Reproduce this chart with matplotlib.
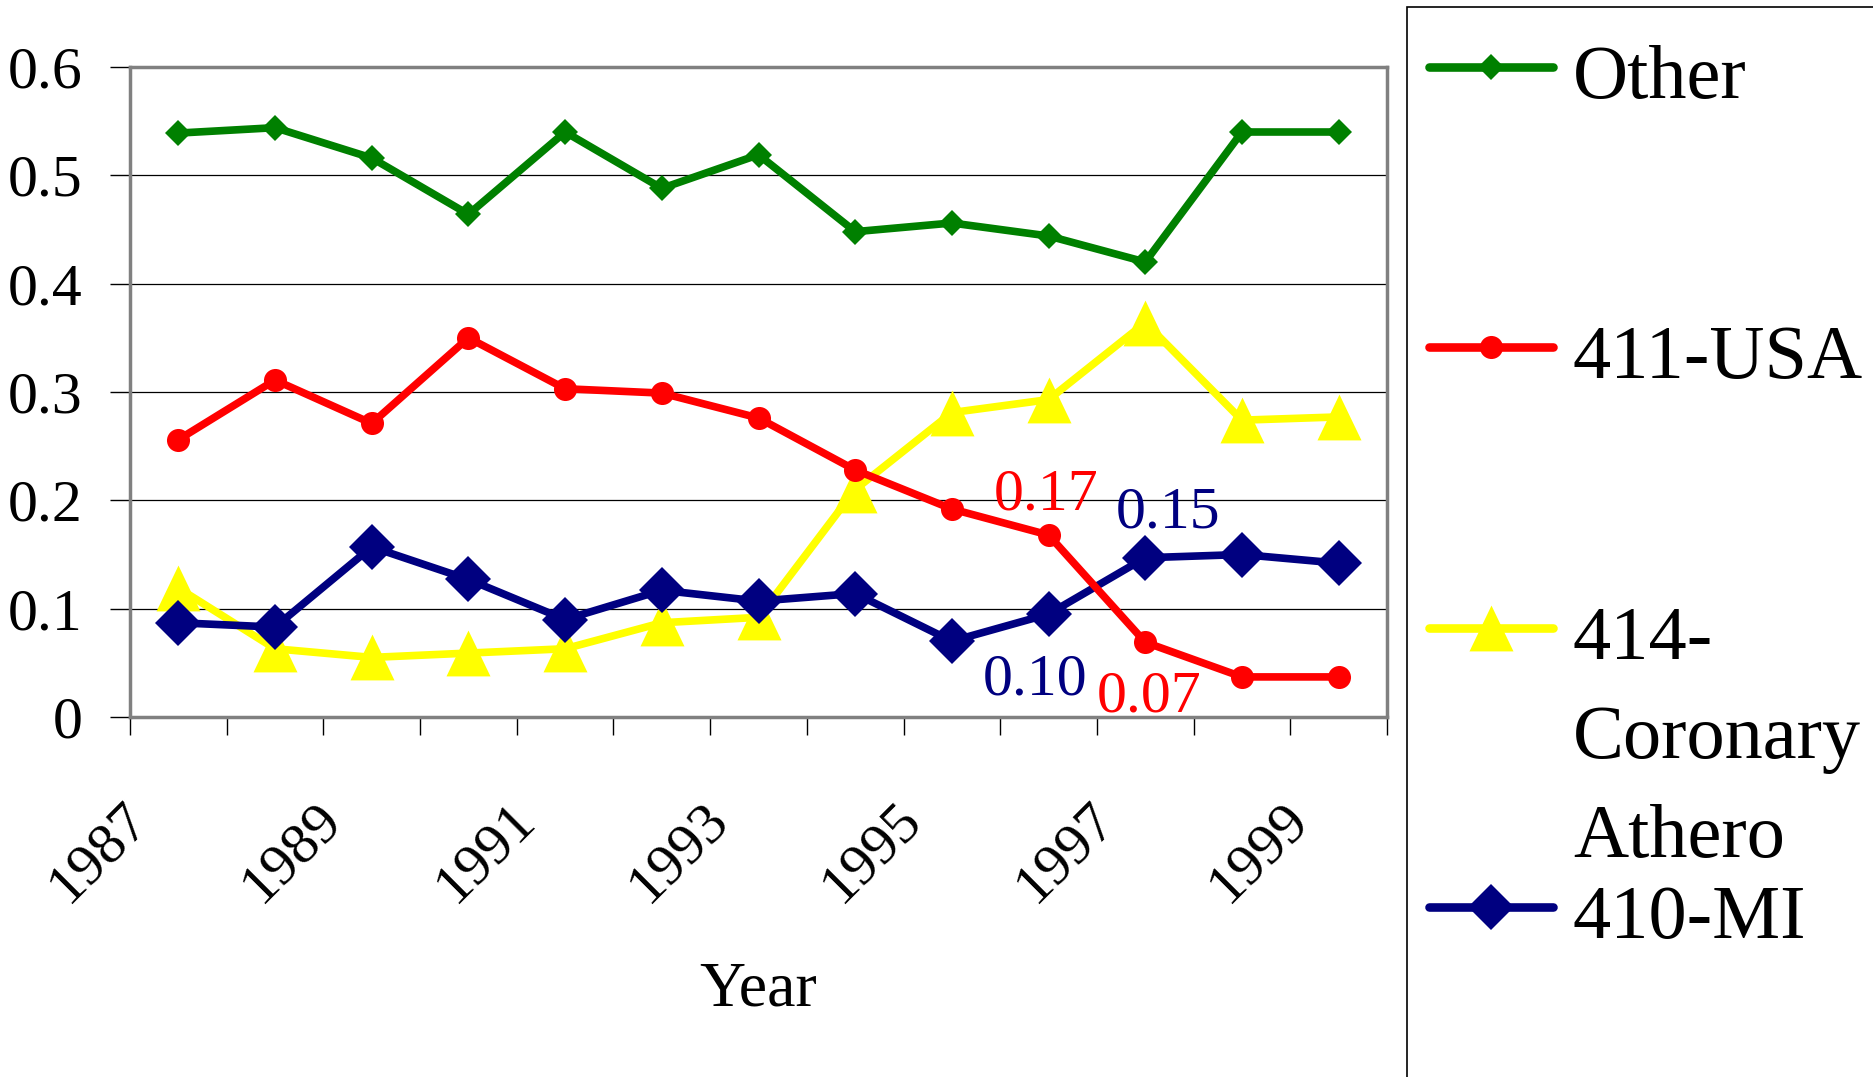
import matplotlib
matplotlib.use("Agg")
import matplotlib.pyplot as plt
from matplotlib.lines import Line2D
from matplotlib.patches import Rectangle
from matplotlib.transforms import ScaledTranslation
import numpy as np

# ---------------- data ----------------
years = [1987, 1988, 1989, 1990, 1991, 1992, 1993, 1994, 1995, 1996, 1997, 1998, 1999]
other = [0.539, 0.544, 0.516, 0.464, 0.540, 0.488, 0.519, 0.448, 0.456, 0.444, 0.420, 0.540, 0.540]
usa411 = [0.256, 0.311, 0.271, 0.350, 0.303, 0.299, 0.276, 0.228, 0.192, 0.168, 0.069, 0.037, 0.037]
coronary414 = [0.119, 0.063, 0.055, 0.059, 0.063, 0.087, 0.092, 0.210, 0.281, 0.293, 0.364, 0.274, 0.277]
mi410 = [0.087, 0.083, 0.157, 0.127, 0.090, 0.117, 0.107, 0.114, 0.070, 0.095, 0.147, 0.150, 0.142]

series_names = ["Other", "411-USA", "414-\nCoronary\nAthero", "410-MI"]
yticks = [0, 0.1, 0.2, 0.3, 0.4, 0.5, 0.6]
ytick_labels = ["0", "0.1", "0.2", "0.3", "0.4", "0.5", "0.6"]

# value labels: (series, year, text)
value_labels = [("411-USA", 1996, "0.17"), ("410-MI", 1997, "0.15"),
                ("410-MI", 1996, "0.10"), ("411-USA", 1997, "0.07")]

# ---------------- style ----------------
plt.rcParams["font.family"] = ["Liberation Serif", "DejaVu Serif"]

W, H = 1873, 1077
fig = plt.figure(figsize=(W / 100, H / 100), dpi=100)
fig.patch.set_facecolor("white")

def fx(x):
    return x / W

def fy(y):
    return 1 - y / H

ax = fig.add_axes([fx(130), fy(717), fx(1387) - fx(130), fy(67) - fy(717)])

tri = [(0, 0.5), (0.48, -0.5), (-0.48, -0.5), (0, 0.5)]
styles = {
    "Other": dict(color="#008000", marker="D", ms=13.7, z=5),
    "411-USA": dict(color="#FF0000", marker="o", ms=16.6, z=4),
    "414-\nCoronary\nAthero": dict(color="#FFFF00", marker=tri, ms=33, z=2),
    "410-MI": dict(color="#000080", marker="D", ms=23, z=3),
}
data = {"Other": other, "411-USA": usa411,
        "414-\nCoronary\nAthero": coronary414, "410-MI": mi410}

xpos = np.arange(len(years))
for name in series_names:
    st = styles[name]
    ax.plot(xpos, data[name], color=st["color"], lw=5.5, marker=st["marker"],
            ms=st["ms"], mew=0, zorder=st["z"], solid_joinstyle="round",
            clip_on=False)

ax.set_xlim(-0.5, len(years) - 0.5)
ax.set_ylim(0, 0.6)

# y axis
ax.set_yticks(yticks)
ax.set_yticklabels(ytick_labels)
ax.tick_params(axis="y", direction="out", length=14.5, width=1.0, pad=19.5,
               labelsize=43, colors="black")
ax.yaxis.grid(True, color="black", lw=0.9)
ax.set_axisbelow(True)

# x axis: tick marks at category boundaries, labels at every other category centre
ax.set_xticks(np.arange(len(years) + 1) - 0.5)
ax.tick_params(axis="x", which="major", direction="out", length=13, width=1.0,
               labelbottom=False, colors="black")
ax.tick_params(axis="x", which="minor", length=0, pad=55, labelsize=42)
ax.set_xticks(xpos[::2], [str(y) for y in years[::2]], minor=True)
offset = ScaledTranslation(-0.2, 0, fig.dpi_scale_trans)
for lbl in ax.get_xticklabels(minor=True):
    lbl.set_rotation(45)
    lbl.set_ha("right")
    lbl.set_va("top")
    lbl.set_transform(lbl.get_transform() + offset)

for sp in ax.spines.values():
    sp.set_color("#808080")
    sp.set_linewidth(2.5)

ax.set_xlabel("Year", fontsize=46)
ax.xaxis.set_label_coords(0.5, (717 - 1005) / 650)
ax.xaxis.label.set_va("baseline")

# value annotations
ann_offsets = {"0.17": (-2, 18), "0.15": (16.6, 22), "0.10": (-10, -58), "0.07": (3, -50)}
for name, yr, txt in value_labels:
    i = years.index(yr)
    ax.annotate(txt, xy=(i, data[name][i]), xytext=ann_offsets[txt],
                textcoords="offset points", ha="center", va="baseline",
                fontsize=43, color=styles[name]["color"], zorder=10)

# ---------------- legend (Excel style) ----------------
fig.add_artist(Rectangle((fx(1407), fy(1200)), fx(2000) - fx(1407), fy(7) - fy(1200),
                         transform=fig.transFigure, facecolor="white",
                         edgecolor="black", lw=1.2))
leg_y = [67, 347, 628, 907]
for name, ly in zip(series_names, leg_y):
    st = styles[name]
    fig.add_artist(Line2D([fx(1429), fx(1553)], [fy(ly), fy(ly)], transform=fig.transFigure,
                          color=st["color"], lw=6.2, solid_capstyle="round"))
    fig.add_artist(Line2D([fx(1491)], [fy(ly)], transform=fig.transFigure,
                          color=st["color"], marker=st["marker"], ms=st["ms"], mew=0,
                          lw=0))
    for k, line in enumerate(name.split("\n")):
        fig.text(fx(1573), fy(ly + 31 + 99 * k), line, fontsize=55,
                 ha="left", va="baseline", color="black")

fig.savefig("out.png", dpi=100, facecolor="white")
